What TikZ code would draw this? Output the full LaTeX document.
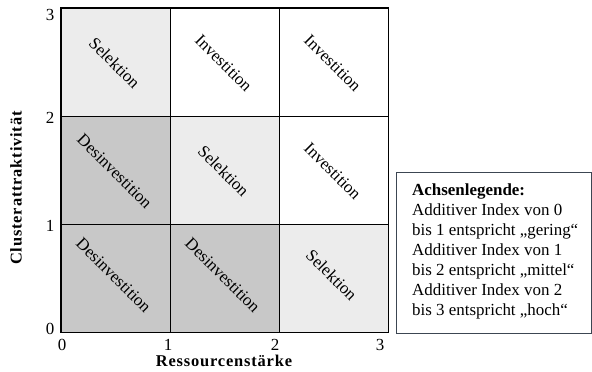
\documentclass[tikz,border=0pt]{standalone}
\usepackage{fontspec}
\setmainfont{Liberation Serif}
\newfontfamily\trackedfont[LetterSpace=5]{Liberation Serif}
\definecolor{lightg}{RGB}{236,236,236}
\definecolor{darkg}{RGB}{200,200,200}
\definecolor{legframe}{RGB}{60,70,82}
\begin{document}
\begin{tikzpicture}[x=1bp,y=-1bp,
  cell/.style={minimum width=109bp, minimum height=108bp, inner sep=0pt, anchor=north west},
  celltext/.style={rotate=-45, font=\fontsize{17}{20}\selectfont, inner sep=0pt},
  tick/.style={font=\fontsize{17}{20}\selectfont, inner sep=0pt},
  axtitle/.style={font=\trackedfont\bfseries\fontsize{16.5}{20}\selectfont, inner sep=0pt},
  gridline/.style={draw=black, line width=1.3bp}]
\useasboundingbox (0,0) rectangle (592,371);
% cells
\node[cell, fill=lightg] (r0c0) at (61,8) {};
\node[cell, fill=white]  (r0c1) at (170,8) {};
\node[cell, fill=white]  (r0c2) at (279,8) {};
\node[cell, fill=darkg]  (r1c0) at (61,116) {};
\node[cell, fill=lightg] (r1c1) at (170,116) {};
\node[cell, fill=white]  (r1c2) at (279,116) {};
\node[cell, fill=darkg]  (r2c0) at (61,224) {};
\node[cell, fill=darkg]  (r2c1) at (170,224) {};
\node[cell, fill=lightg] (r2c2) at (279,224) {};
% grid lines
\draw[gridline] (r0c0.north west) rectangle (r2c2.south east);
\draw[gridline] (r0c0.north east) -- (r2c0.south east);
\draw[gridline] (r0c1.north east) -- (r2c1.south east);
\draw[gridline] (r0c0.south west) -- (r0c2.south east);
\draw[gridline] (r1c0.south west) -- (r1c2.south east);
% cell texts
\node[celltext] (t00) at ([shift={(-1,1)}]r0c0.center) {Selektion};
\node[celltext] (t01) at ([shift={(-1,1)}]r0c1.center) {Investition};
\node[celltext] (t02) at ([shift={(-1,1)}]r0c2.center) {Investition};
\node[celltext] (t10) at ([shift={(-1,1)}]r1c0.center) {Desinvestition};
\node[celltext] (t11) at ([shift={(-1,1)}]r1c1.center) {Selektion};
\node[celltext] (t12) at ([shift={(-1,1)}]r1c2.center) {Investition};
\node[celltext] (t20) at ([shift={(-2,-3)}]r2c0.center) {Desinvestition};
\node[celltext] (t21) at ([shift={(-2,-3)}]r2c1.center) {Desinvestition};
\node[celltext] (t22) at ([shift={(-2,-3)}]r2c2.center) {Selektion};
% y ticks
\node[tick] (y3) at (50,15) {3};
\node[tick] (y2) at (50,118) {2};
\node[tick] (y1) at (50,226) {1};
\node[tick] (y0) at (50,329) {0};
% x ticks
\node[tick] (x0) at (62,345) {0};
\node[tick] (x1) at (168,345) {1};
\node[tick] (x2) at (275,345) {2};
\node[tick] (x3) at (380,345) {3};
% axis titles
\node[axtitle] (xt) at (224,361) {Ressourcenstärke};
\node[axtitle, rotate=90] (yt) at (16,188) {Clusterattraktivität};
% legend
\node[draw=legframe, line width=1.4bp, minimum width=195bp, minimum height=161bp, inner sep=0pt, anchor=north west] (leg) at (396,172) {};
\node[anchor=north west, align=left, inner sep=0pt, font=\fontsize{17}{20}\selectfont] (legtext) at (412,184)
  {\textbf{Achsenlegende:}\\
   Additiver Index von 0\\
   bis 1 entspricht „gering“\\
   Additiver Index von 1\\
   bis 2 entspricht „mittel“\\
   Additiver Index von 2\\
   bis 3 entspricht „hoch“};
\end{tikzpicture}
\end{document}
